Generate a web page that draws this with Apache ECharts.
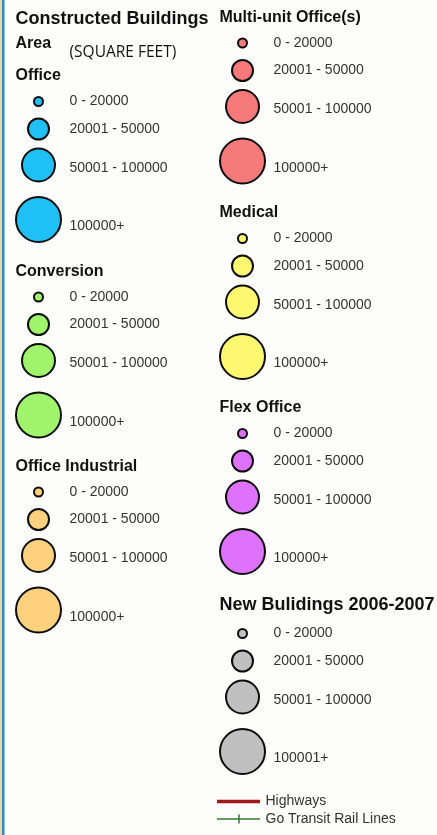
<!DOCTYPE html>
<html><head><meta charset="utf-8">
<script src="https://cdn.jsdelivr.net/npm/echarts@6/dist/echarts.min.js"></script>
<style>html,body{margin:0;padding:0;background:#fdfdfc;}#c{width:437px;height:835px;}</style>
</head><body><div id="c"></div>
<script>
// ---- content ----
const mainTitle = 'Constructed Buildings';
const areaLabel = 'Area';
const unitLabel = '(SQUARE FEET)';
const sections = ['Office', 'Conversion', 'Office Industrial', 'Multi-unit Office(s)', 'Medical', 'Flex Office', 'New Bulidings 2006-2007'];
const classLabels = ['0 - 20000', '20001 - 50000', '50001 - 100000', '100000+'];
const newBuildingClassLabels = ['0 - 20000', '20001 - 50000', '50001 - 100000', '100001+'];
const lineLegendLabels = ['Highways', 'Go Transit Rail Lines'];

// ---- styles ----
const sectionColors = ['#1fc0f6', '#a0f46c', '#fed17f', '#f77a7a', '#fef871', '#df72fd', '#c0c0c0'];
const classSymbolSizes = [9, 21, 33, 45];
const lineColors = ['#a01a1a', '#2f7d2f'];
const FONT = '"Liberation Sans", Arial, sans-serif';

// ---- layout ----
const colTitleX = [15, 219];
const circleX = [38.5, 242.5];
const textX = [69, 273];
const sectionCol = [0, 0, 0, 1, 1, 1, 1];
const sectionTitleY = [76, 271.5, 466.5, 17.5, 213, 408, 605];
const sectionTitleSize = [16, 16, 16, 16, 16, 16, 18];
const rowShift = [0, 0, 0, 0, 0, 0, 3];
const rowOffsets = [25.5, 53, 89, 143.5];
const labelDy = [0, 0, 3, 7];

function textSeries(items, font) {
  return {
    type: 'scatter', symbol: 'circle', symbolSize: 1, silent: true,
    itemStyle: { color: 'rgba(0,0,0,0)', opacity: 1 },
    label: Object.assign({ show: true, position: 'right', distance: 0, formatter: '{b}', fontFamily: FONT, opacity: 1 }, font),
    data: items.map(it => ({ name: it[0], value: [it[1], it[2]] })),
    z: 5
  };
}

const series = [];
series.push(textSeries([[mainTitle, 15, 19]], { fontSize: 18, fontWeight: 'bold', color: '#111' }));
series.push(textSeries([[areaLabel, 15, 44]], { fontSize: 16, fontWeight: 'bold', color: '#111' }));
series.push(textSeries([[unitLabel, 69, 53]], { fontSize: 15.5, fontFamily: '"Open Sans", sans-serif', color: '#111' }));

sections.forEach((name, i) => {
  const col = sectionCol[i];
  const ty = sectionTitleY[i];
  series.push(textSeries([[name, colTitleX[col], ty]], { fontSize: sectionTitleSize[i], fontWeight: 'bold', color: '#111' }));
  const labels = i === sections.length - 1 ? newBuildingClassLabels : classLabels;
  series.push({
    type: 'scatter', symbol: 'circle', silent: true,
    itemStyle: { color: sectionColors[i], borderColor: '#0d0d0d', borderWidth: 2, opacity: 1 },
    data: classSymbolSizes.map((s, k) => ({ value: [circleX[col], ty + rowShift[i] + rowOffsets[k]], symbolSize: s })),
    z: 3
  });
  series.push(textSeries(labels.map((t, k) => [t, textX[col], ty + rowShift[i] + rowOffsets[k] + labelDy[k]]),
    { fontSize: 14, color: '#333' }));
});

// line legend
const lineY = [801.5, 819];
const lineX0 = 217, lineX1 = 260, lineTextX = 265;
series.push({ type: 'line', silent: true, symbol: 'none', lineStyle: { color: lineColors[0], width: 3.5, opacity: 1 }, data: [[lineX0, lineY[0]], [lineX1, lineY[0]]] });
series.push({ type: 'line', silent: true, symbol: 'none', lineStyle: { color: lineColors[1], width: 1.5, opacity: 1 }, data: [[lineX0, lineY[1]], [lineX1, lineY[1]]] });
series.push({ type: 'line', silent: true, symbol: 'none', lineStyle: { color: lineColors[1], width: 1.5, opacity: 1 }, data: [[239, lineY[1] - 4.5], [239, lineY[1] + 4.5]] });
series.push(textSeries(lineLegendLabels.map((t, k) => [t, lineTextX, lineY[k]]), { fontSize: 14, color: '#333' }));

const chart = echarts.init(document.getElementById('c'), null, { renderer: 'canvas' });
chart.setOption({
  animation: false,
  backgroundColor: '#fdfdfc',
  grid: { left: 0, right: 0, top: 0, bottom: 0 },
  xAxis: { type: 'value', min: 0, max: 437, show: false },
  yAxis: { type: 'value', min: 0, max: 835, inverse: true, show: false },
  graphic: [
    { type: 'rect', shape: { x: 0, y: 0, width: 2, height: 835 }, style: { fill: '#e4d6a6' }, silent: true },
    { type: 'rect', shape: { x: 2, y: 0, width: 2.5, height: 835 }, style: { fill: '#2a8dc6' }, silent: true }
  ],
  series: series
});
</script></body></html>
